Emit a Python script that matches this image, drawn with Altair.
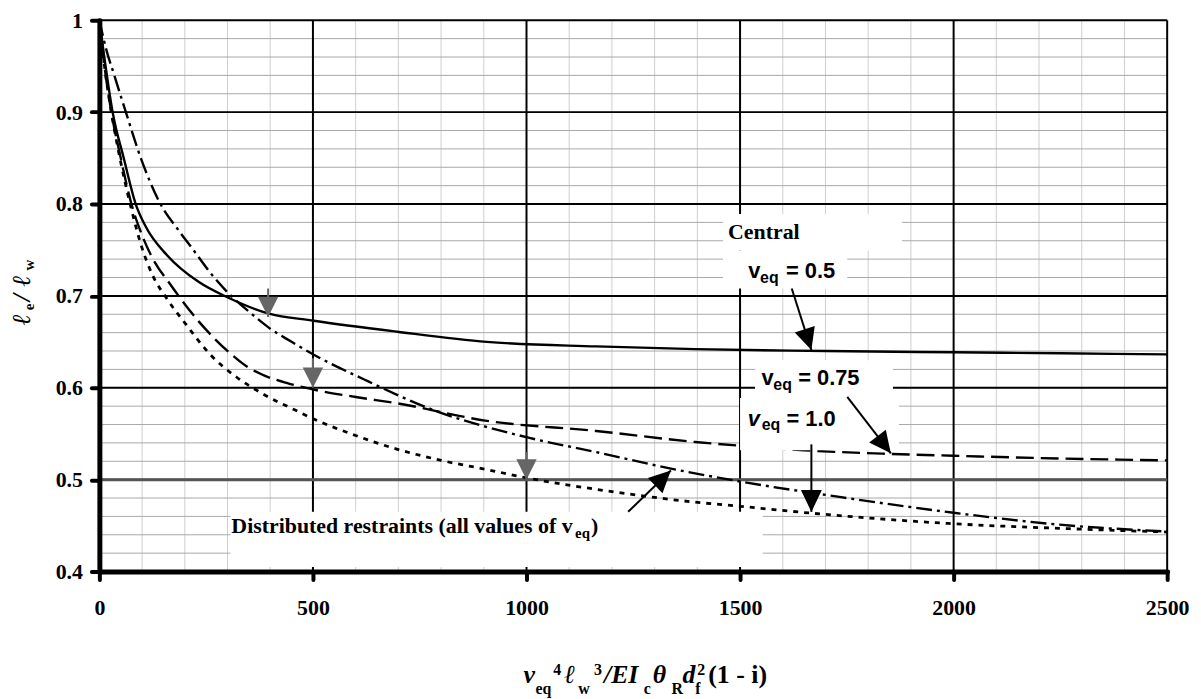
import math
import altair as alt
import pandas as pd

SERIF = "Times New Roman, Liberation Serif, serif"
SANS = "Arial, Liberation Sans, sans-serif"

# ---------------- curve data ----------------
central_x = [0, 10, 31, 57, 85, 109, 159, 233, 302, 395, 502, 698, 907, 1163, 1395, 1700, 2000, 2250, 2500]
central_y = [1.0, 0.965, 0.9, 0.85, 0.8, 0.775, 0.744, 0.715, 0.698, 0.681, 0.673, 0.661, 0.65, 0.645, 0.642, 0.640, 0.6386, 0.6375, 0.6364]

v075_x = [0, 12, 28, 50, 75, 100, 120, 170, 233, 310, 349, 388, 440, 502, 600, 698, 907, 1163, 1395, 1500, 1650, 1853, 2000, 2250, 2500]
v075_y = [1.0, 0.95, 0.9, 0.85, 0.8, 0.766, 0.745, 0.71, 0.672, 0.636, 0.622, 0.613, 0.605, 0.598, 0.59, 0.583, 0.564, 0.553, 0.541, 0.537, 0.532, 0.528, 0.526, 0.523, 0.521]

v100_x = [0, 12, 28, 48, 72, 100, 125, 155, 201, 264, 320, 380, 457, 502, 600, 698, 800, 907, 1000, 1200, 1395, 1500, 1667, 2000, 2248, 2500]
v100_y = [1.0, 0.95, 0.9, 0.85, 0.8, 0.752, 0.722, 0.699, 0.670, 0.634, 0.612, 0.594, 0.576, 0.566, 0.548, 0.533, 0.521, 0.511, 0.502, 0.487, 0.4755, 0.471, 0.4635, 0.452, 0.447, 0.443]

dist_x = [0, 15, 35, 62, 97, 143, 186, 220, 260, 302, 350, 395, 450, 502, 620, 775, 1002, 1163, 1338, 1500, 1750, 2000, 2248, 2500]
dist_y = [1.0, 0.97, 0.94, 0.9, 0.85, 0.8, 0.771, 0.75, 0.725, 0.703, 0.683, 0.666, 0.65, 0.636, 0.609, 0.577, 0.546, 0.530, 0.512, 0.498, 0.48, 0.464, 0.451, 0.4435]

# ---------------- axes / grid ----------------
x_ticks = [0, 500, 1000, 1500, 2000, 2500]
y_ticks = [0.4, 0.5, 0.6, 0.7, 0.8, 0.9, 1.0]
minor_x = list(range(100, 2500, 100))
minor_y = [round(0.4 + 0.02 * i, 2) for i in range(1, 30)]

W, H = 1075, 555
PX_X = W / 2500.0
PX_Y = H / 0.6

xs = alt.Scale(domain=[0, 2500], nice=False, zero=False)
ys = alt.Scale(domain=[0.4, 1.0], nice=False, zero=False)

common_axis = dict(
    title=None, grid=False, labelFont=SERIF, labelFontSize=22, labelFontWeight="bold",
    labelColor="black", labelFlush=False, domainColor="black", domainWidth=5,
    domainCap="round", tickColor="black", tickWidth=4, tickSize=8, tickCap="round", zindex=2,
)
x_axis = alt.Axis(values=x_ticks, format="d", labelPadding=18, **common_axis)
y_axis = alt.Axis(values=y_ticks, labelExpr="datum.value == 1 ? '1' : format(datum.value, '.1f')",
                  labelPadding=9, **common_axis)


def X(f="x"):
    return alt.X(f"{f}:Q", scale=xs, axis=x_axis)


def Y(f="y"):
    return alt.Y(f"{f}:Q", scale=ys, axis=y_axis)


layers = []

# minor grid
layers.append(alt.Chart(pd.DataFrame({"x": minor_x})).mark_rule(color="#cfcfcf", strokeWidth=1).encode(x=X()))
layers.append(alt.Chart(pd.DataFrame({"y": minor_y})).mark_rule(color="#a8a8a8", strokeWidth=1).encode(y=Y()))
# major grid
layers.append(alt.Chart(pd.DataFrame({"x": x_ticks[1:]})).mark_rule(color="black", strokeWidth=2).encode(x=X()))
layers.append(alt.Chart(pd.DataFrame({"y": y_ticks[1:]})).mark_rule(color="black", strokeWidth=2).encode(y=Y()))
# grey 0.5 line
layers.append(alt.Chart(pd.DataFrame({"y": [0.5]})).mark_rule(color="#555555", strokeWidth=3).encode(y=Y()))


def curve(xv, yv, dash, width):
    d = pd.DataFrame({"x": xv, "y": yv})
    kw = dict(color="black", strokeWidth=width, interpolate="monotone")
    if dash:
        kw["strokeDash"] = dash
    return alt.Chart(d).mark_line(**kw).encode(x=X(), y=Y())


layers.append(curve(central_x, central_y, None, 2.4))
layers.append(curve(v075_x, v075_y, [18, 7], 2.4))
layers.append(curve(v100_x, v100_y, [5, 6], 2.8))
layers.append(curve(dist_x, dist_y, [16, 5, 3, 5], 2.4))

# white label boxes
boxes = pd.DataFrame({
    "x": [1460, 1460, 1535, 1500, 307],
    "x2": [1879, 1751, 1858, 1872, 1553],
    "y": [0.789, 0.749, 0.630, 0.589, 0.465],
    "y2": [0.749, 0.708, 0.589, 0.532, 0.405],
})
layers.append(alt.Chart(boxes).mark_rect(color="white", strokeWidth=0).encode(
    x=X(), x2=alt.X2("x2:Q"), y=Y(), y2=alt.Y2("y2:Q")))


def text(x, y, s, size=22, font=SERIF, style="normal", dx=0, dy=0, angle=0):
    d = pd.DataFrame({"x": [x], "y": [y], "t": [s]})
    kw = dict(align="left", baseline="alphabetic", font=font, fontSize=size, fontWeight="bold",
              fontStyle=style, color="black", dx=dx, dy=dy)
    if angle:
        kw["angle"] = angle
    return alt.Chart(d).mark_text(**kw).encode(x=X(), y=Y(), text="t:N")


# annotation labels
layers.append(text(1472, 0.7622, "Central"))
layers.append(text(1519, 0.7197, "v", font=SANS))
layers.append(text(1519, 0.7197, "eq", size=16, font=SANS, dx=12, dy=5))
layers.append(text(1519, 0.7197, "= 0.5", font=SANS, dx=38))
layers.append(text(1550, 0.6032, "v", font=SANS))
layers.append(text(1550, 0.6032, "eq", size=16, font=SANS, dx=12, dy=5))
layers.append(text(1550, 0.6032, "= 0.75", font=SANS, dx=37))
layers.append(text(1518, 0.5589, "v", font=SANS, style="italic"))
layers.append(text(1518, 0.5589, "eq", size=16, font=SANS, dx=14, dy=5))
layers.append(text(1518, 0.5589, "= 1.0", font=SANS, dx=39))
layers.append(text(309, 0.4415, "Distributed restraints (all values of v"))
layers.append(text(309, 0.4415, "eq", size=15, dx=346, dy=5))
layers.append(text(309, 0.4415, ")", dx=362))

# x-axis title (composite with sub/superscripts)
XT = (993, 0.2789)
xt_parts = [
    ("v", 26, "italic", 0, 0), ("eq", 16, "normal", 12, 11), ("4", 16, "normal", 30, -8),
    ("ℓ", 26, "italic", 41, 0), ("w", 16, "normal", 55, 11), ("3", 16, "normal", 71, -8),
    ("/EI", 26, "italic", 81, 0), ("c", 16, "normal", 121, 11), ("θ", 26, "italic", 130, 0),
    ("R", 16, "normal", 149, 11), ("d", 26, "italic", 160, 0), ("f", 16, "normal", 173, 11),
    ("2", 16, "normal", 175, -8), ("(1 - i)", 26, "normal", 186, 0),
]
for s, sz, st, dx, dy in xt_parts:
    layers.append(text(XT[0], XT[1], s, size=sz, style=st, dx=dx, dy=dy))

# y-axis title (rotated composite)
YT = (-163, 0.6681)
yt_parts = [("ℓ", 26, "italic", 0, 0), ("e", 15, "normal", 15, 4), ("/", 26, "italic", 24, 0),
            ("ℓ", 26, "italic", 39, 0), ("w", 15, "normal", 55, 4)]
for s, sz, st, dx, dy in yt_parts:
    layers.append(text(YT[0], YT[1], s, size=sz, style=st, dx=dx, dy=dy, angle=270))

# grey downward arrows
gray = pd.DataFrame({"x": [395, 500, 1000], "y_top": [0.708, 0.632, 0.530], "y_tip": [0.677, 0.600, 0.500]})
layers.append(alt.Chart(gray).mark_rule(color="#666666", strokeWidth=2).encode(
    x=X(), y=Y("y_top"), y2=alt.Y2("y_tip:Q")))
layers.append(alt.Chart(gray).mark_point(shape="M0,0L-0.5,-1L0.5,-1Z", size=1681, filled=True,
                                          color="#666666", opacity=1, strokeWidth=0).encode(
    x=X(), y=Y("y_tip")))

# black annotation arrows
arrows_from_x = [1621, 1751, 1667, 1238]
arrows_from_y = [0.708, 0.590, 0.5384, 0.465]
arrows_to_x = [1667, 1853, 1667, 1338]
arrows_to_y = [0.641, 0.5286, 0.4649, 0.510]
arr = pd.DataFrame({"x": arrows_from_x, "y": arrows_from_y, "x2": arrows_to_x, "y2": arrows_to_y})
layers.append(alt.Chart(arr).mark_rule(color="black", strokeWidth=2).encode(
    x=X(), y=Y(), x2=alt.X2("x2:Q"), y2=alt.Y2("y2:Q")))
for x1, y1, x2, y2 in zip(arrows_from_x, arrows_from_y, arrows_to_x, arrows_to_y):
    dxp = (x2 - x1) * PX_X
    dyp = -(y2 - y1) * PX_Y
    ang = math.degrees(math.atan2(-dxp, dyp)) % 360
    d = pd.DataFrame({"x": [x2], "y": [y2]})
    mk = dict(shape="M0,0L-0.48,-1L0.48,-1Z", size=1936, filled=True, color="black",
              opacity=1, strokeWidth=0)
    if ang > 0.01:
        mk["angle"] = round(ang, 2)
    layers.append(alt.Chart(d).mark_point(**mk).encode(x=X(), y=Y()))

chart = alt.layer(*layers).properties(
    width=W, height=H,
    autosize=alt.AutoSizeParams(type="none"),
    padding={"left": 92, "top": 10, "right": 26, "bottom": 126},
    background="white",
).configure_view(strokeWidth=0).configure_axis(labelFont=SERIF)

chart.save("out.html", embed_options={"renderer": "svg", "actions": False})
